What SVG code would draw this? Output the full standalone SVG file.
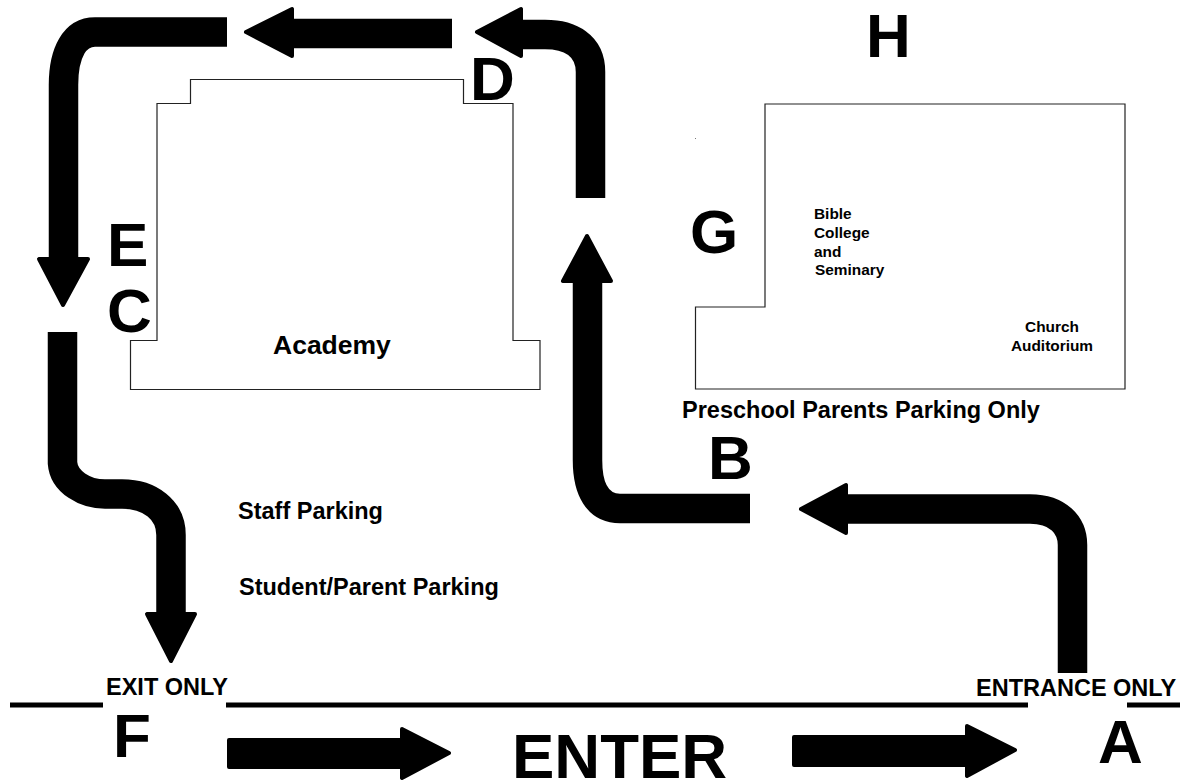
<svg xmlns="http://www.w3.org/2000/svg" width="1180" height="783" viewBox="0 0 1180 783">
<style>
text{font-family:"Liberation Sans",Arial,sans-serif;fill:#000;font-weight:bold}
.big{font-size:62px}
.lab{font-size:23.5px}
.sm{font-size:15.4px}
.route{fill:none;stroke:#000;stroke-width:29.5}
.head{fill:#000;stroke:#000;stroke-width:4;stroke-linejoin:round}
.outline{fill:#fff;stroke:#222;stroke-width:1.2}
.road{stroke:#000;stroke-width:5;fill:none}
</style>
<rect width="1180" height="783" fill="#fff"/>
<g id="connectors">
<path class="route" d="M1072.500 673V545C1072.500 525 1058 509 1030 509H845"/>
<polygon class="head" points="801,509 846,485 846,533"/>
<path class="route" d="M750 508.500H620C598 508.500 587.500 490 587.500 460V280"/>
<polygon class="head" points="587,236 563,281 611,281"/>
<path class="route" d="M590.500 198V72C590.500 45 570 34.500 545 34.500H515"/>
<polygon class="head" points="477,32 521,9 521,56"/>
<path class="route" d="M452 33.500H285"/>
<polygon class="head" points="246,32 292,9 292,56"/>
<path class="route" d="M227 32H95C75 32 63.500 52 63.500 85V265"/>
<polygon class="head" points="63,305 39,259 88,259"/>
<path class="route" d="M62.500 332V463C64 482 85 494 105 494H122C150 494 171 510 171 535V620"/>
<polygon class="head" points="171,661 147,614 195,614"/>
<path class="head" stroke-width="2" d="M229 740H402V729L449 753L402 778V767H229Z"/>
<path class="head" stroke-width="2" d="M794 737H967V726L1015 750L967 776V765H794Z"/>
<path class="road" d="M10 705H103M226 705H1028M1127 705H1180"/>
</g>
<g id="academy"><path class="outline" d="M157 340.500V103.500H190.500V79.500H463.500V103.500H513V340.500H540V389.500H130.500V340.500Z"/><text x="273" y="354" font-size="26.500">Academy</text></g>
<g id="church"><path class="outline" d="M765 104H1125V389H695.500V307H765Z"/><text class="sm" x="814" y="219">Bible</text><text class="sm" x="814" y="238">College</text><text class="sm" x="814" y="257">and</text><text class="sm" x="815" y="275">Seminary</text><text class="sm" x="1052" y="332" text-anchor="middle">Church</text><text class="sm" x="1052" y="351" text-anchor="middle">Auditorium</text></g>
<g id="labels">
<rect x="695" y="138" width="1" height="1" fill="#777"/>
<text class="lab" x="682" y="418">Preschool Parents Parking Only</text>
<text class="lab" x="238" y="519">Staff Parking</text>
<text class="lab" x="239" y="595">Student/Parent Parking</text>
<text class="lab" x="106" y="695">EXIT ONLY</text>
<text class="lab" x="976" y="696">ENTRANCE ONLY</text>
<text class="big" x="866" y="57">H</text><text class="big" x="470" y="100">D</text><text class="big" x="690" y="253">G</text><text class="big" x="107" y="266">E</text><text class="big" x="107" y="332">C</text><text class="big" x="708" y="479">B</text><text class="big" x="113" y="757">F</text><text class="big" x="1098" y="763">A</text>
<text x="512" y="778" font-size="63.500">ENTER</text>
</g>
</svg>
